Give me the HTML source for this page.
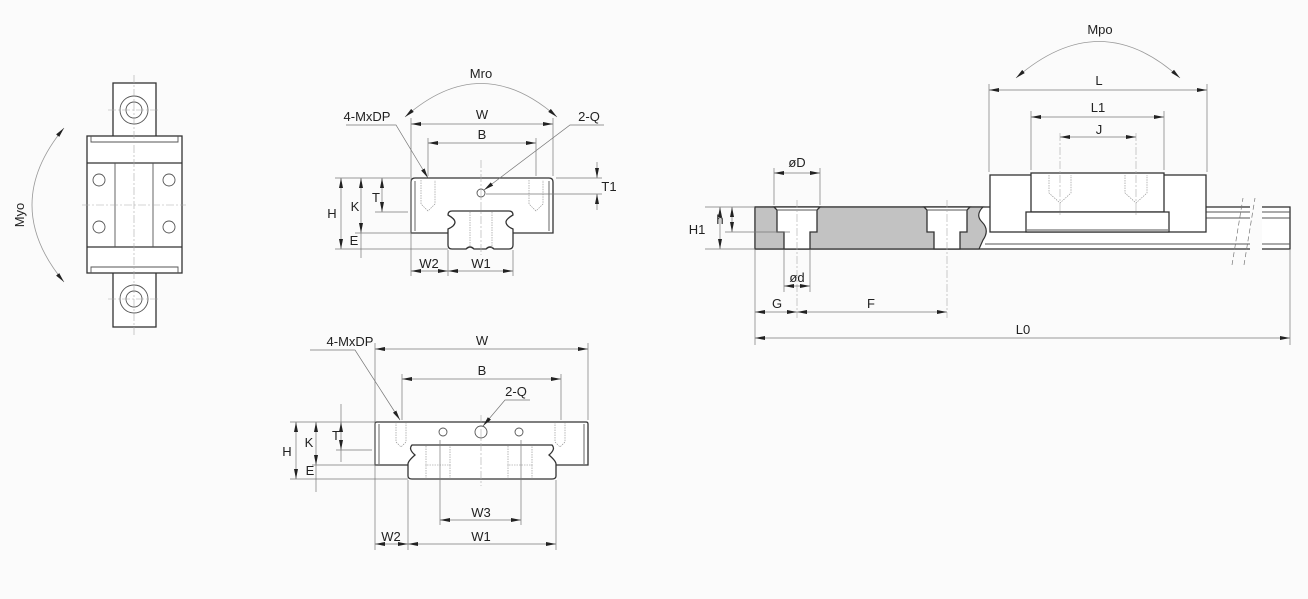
<!DOCTYPE html>
<html><head><meta charset="utf-8"><style>
html,body{margin:0;padding:0;background:#fbfbfb}
svg{display:block}
text{font-family:"Liberation Sans",sans-serif;font-size:13px;fill:#222}
.o{stroke:#333;stroke-width:1.3;fill:none}
.w{stroke:#333;stroke-width:1.3;fill:#fff}
.t{stroke:#555;stroke-width:0.9;fill:none}
.d{stroke:#777;stroke-width:0.7;fill:none}
.c{stroke:#aaa;stroke-width:0.6;fill:none;stroke-dasharray:8 2 2 2}
.h{stroke:#888;stroke-width:0.6;fill:none;stroke-dasharray:1.5 1}
.a{stroke:#999;stroke-width:0.8;fill:none}
</style></head><body>
<svg width="1308" height="599" viewBox="0 0 1308 599" xmlns="http://www.w3.org/2000/svg">
<defs>
<marker id="ar" viewBox="0 0 10 6" refX="10" refY="3" markerWidth="10" markerHeight="6" orient="auto-start-reverse" markerUnits="userSpaceOnUse"><path d="M0,1 L10,3 L0,5 z" fill="#222"/></marker>
</defs>
<rect width="1308" height="599" fill="#fbfbfb"/>

<!-- ===== LEFT VIEW ===== -->
<rect x="113" y="83" width="43" height="244" class="w"/>
<circle cx="134" cy="110" r="14" class="t"/><circle cx="134" cy="110" r="8" class="t"/>
<circle cx="134" cy="299" r="14" class="t"/><circle cx="134" cy="299" r="8" class="t"/>
<rect x="87" y="136" width="95" height="137" class="w"/>
<line x1="87" y1="163" x2="182" y2="163" class="o"/>
<line x1="87" y1="247" x2="182" y2="247" class="o"/>
<path d="M91,136 v6 h87 v-6 M91,273 v-6 h87 v6" class="t"/>
<line x1="115" y1="163" x2="115" y2="247" class="t"/>
<line x1="153" y1="163" x2="153" y2="247" class="t"/>
<circle cx="99" cy="180" r="6" class="t"/><circle cx="169" cy="180" r="6" class="t"/>
<circle cx="99" cy="227" r="6" class="t"/><circle cx="169" cy="227" r="6" class="t"/>
<line x1="134" y1="75" x2="134" y2="335" class="c"/>
<line x1="82" y1="205" x2="186" y2="205" class="c"/>
<line x1="108" y1="110" x2="160" y2="110" class="c"/>
<line x1="108" y1="299" x2="160" y2="299" class="c"/>
<path d="M64,128 Q0,205 64,282" class="a" marker-start="url(#ar)" marker-end="url(#ar)"/>
<text x="24" y="215" transform="rotate(-90 24 215)" text-anchor="middle">Myo</text>

<!-- ===== TOP CENTER VIEW ===== -->
<path d="M411,233 V182 Q411,178 415,178 H549 Q553,178 553,182 V233 Z" class="w"/>
<path d="M452,211 H509 Q513,211 513,215 Q506,219 506,222 Q506,226 513,229 V245 Q513,249 509,249 H494 Q490,245 486,249 H474 Q470,245 466,249 H452 Q448,249 448,245 V229 Q455,226 455,222 Q455,219 448,215 Q448,211 452,211 Z" class="w"/>
<line x1="415" y1="181" x2="415" y2="231" class="t"/>
<line x1="549" y1="181" x2="549" y2="231" class="t"/>
<path d="M421,180 v24 l7,7 l7,-7 v-24 M529,180 v24 l7,7 l7,-7 v-24" class="h"/>
<path d="M470,212 v36 M492,212 v36" class="h"/>
<circle cx="481" cy="193" r="4" class="t"/>
<line x1="481" y1="160" x2="481" y2="255" class="c"/>
<path d="M405,117 Q481,50 557,117" class="a" marker-start="url(#ar)" marker-end="url(#ar)"/>
<text x="481" y="78" text-anchor="middle">Mro</text>
<line x1="411" y1="118" x2="411" y2="276" class="d"/>
<line x1="553" y1="118" x2="553" y2="176" class="d"/>
<line x1="411" y1="124" x2="553" y2="124" class="d" marker-start="url(#ar)" marker-end="url(#ar)"/>
<text x="482" y="119" text-anchor="middle">W</text>
<line x1="428" y1="138" x2="428" y2="176" class="d"/>
<line x1="536" y1="138" x2="536" y2="176" class="d"/>
<line x1="428" y1="143" x2="536" y2="143" class="d" marker-start="url(#ar)" marker-end="url(#ar)"/>
<text x="482" y="139" text-anchor="middle">B</text>
<text x="367" y="121" text-anchor="middle">4-MxDP</text>
<path d="M346,125 H396 L428,178" class="d" marker-end="url(#ar)"/>
<text x="589" y="121" text-anchor="middle">2-Q</text>
<path d="M604,125 H570 L484,190" class="d" marker-end="url(#ar)"/>
<line x1="556" y1="178" x2="602" y2="178" class="d"/>
<line x1="486" y1="194" x2="602" y2="194" class="d"/>
<line x1="597" y1="162" x2="597" y2="178" class="d" marker-end="url(#ar)"/>
<line x1="597" y1="210" x2="597" y2="194" class="d" marker-end="url(#ar)"/>
<text x="609" y="191" text-anchor="middle">T1</text>
<line x1="335" y1="178" x2="410" y2="178" class="d"/>
<line x1="335" y1="249" x2="448" y2="249" class="d"/>
<line x1="355" y1="233" x2="410" y2="233" class="d"/>
<line x1="375" y1="212" x2="408" y2="212" class="d"/>
<line x1="341" y1="178" x2="341" y2="249" class="d" marker-start="url(#ar)" marker-end="url(#ar)"/>
<text x="332" y="218" text-anchor="middle">H</text>
<line x1="361" y1="178" x2="361" y2="233" class="d" marker-start="url(#ar)" marker-end="url(#ar)"/>
<line x1="361" y1="233" x2="361" y2="258" class="d"/>
<text x="355" y="211" text-anchor="middle">K</text>
<text x="354" y="245" text-anchor="middle">E</text>
<line x1="382" y1="178" x2="382" y2="212" class="d" marker-start="url(#ar)" marker-end="url(#ar)"/>
<text x="376" y="202" text-anchor="middle">T</text>
<line x1="448" y1="250" x2="448" y2="276" class="d"/>
<line x1="513" y1="250" x2="513" y2="276" class="d"/>
<line x1="411" y1="271" x2="448" y2="271" class="d" marker-start="url(#ar)" marker-end="url(#ar)"/>
<line x1="448" y1="271" x2="513" y2="271" class="d" marker-start="url(#ar)" marker-end="url(#ar)"/>
<text x="429" y="268" text-anchor="middle">W2</text>
<text x="481" y="268" text-anchor="middle">W1</text>

<!-- ===== BOTTOM CENTER VIEW ===== -->
<path d="M375,465 V424 Q375,422 377,422 H586 Q588,422 588,424 V465 Z" class="w"/>
<path d="M412,445 H552 Q556,449 549,455 Q556,461 556,464 V476 Q556,479 552,479 H412 Q408,479 408,476 V464 Q408,461 415,455 Q408,449 412,445 Z" class="w"/>
<line x1="379" y1="424" x2="379" y2="464" class="t"/>
<line x1="584" y1="424" x2="584" y2="464" class="t"/>
<path d="M396,422 v20 l5,5 l5,-5 v-20 M555,422 v20 l5,5 l5,-5 v-20" class="h"/>
<path d="M426,446 v19 h24 v-19 M426,465 v14 M450,465 v14 M508,446 v19 h24 v-19 M508,465 v14 M532,465 v14" class="h"/>
<circle cx="443" cy="432" r="4" class="t"/><circle cx="519" cy="432" r="4" class="t"/>
<circle cx="481" cy="432" r="6" class="t"/>
<line x1="481" y1="415" x2="481" y2="486" class="c"/>
<line x1="375" y1="343" x2="375" y2="550" class="d"/>
<line x1="588" y1="343" x2="588" y2="420" class="d"/>
<line x1="375" y1="349" x2="588" y2="349" class="d" marker-start="url(#ar)" marker-end="url(#ar)"/>
<text x="482" y="345" text-anchor="middle">W</text>
<line x1="402" y1="374" x2="402" y2="420" class="d"/>
<line x1="561" y1="374" x2="561" y2="420" class="d"/>
<line x1="402" y1="379" x2="561" y2="379" class="d" marker-start="url(#ar)" marker-end="url(#ar)"/>
<text x="482" y="375" text-anchor="middle">B</text>
<text x="350" y="346" text-anchor="middle">4-MxDP</text>
<path d="M310,350 H355 L400,420" class="d" marker-end="url(#ar)"/>
<text x="516" y="396" text-anchor="middle">2-Q</text>
<path d="M530,400 H505 L483,426" class="d" marker-end="url(#ar)"/>
<line x1="290" y1="422" x2="375" y2="422" class="d"/>
<line x1="290" y1="479" x2="408" y2="479" class="d"/>
<line x1="312" y1="465" x2="375" y2="465" class="d"/>
<line x1="336" y1="450" x2="372" y2="450" class="d"/>
<line x1="296" y1="422" x2="296" y2="479" class="d" marker-start="url(#ar)" marker-end="url(#ar)"/>
<text x="287" y="456" text-anchor="middle">H</text>
<line x1="316" y1="422" x2="316" y2="465" class="d" marker-start="url(#ar)" marker-end="url(#ar)"/>
<line x1="316" y1="465" x2="316" y2="492" class="d"/>
<text x="309" y="447" text-anchor="middle">K</text>
<text x="310" y="475" text-anchor="middle">E</text>
<line x1="341" y1="404" x2="341" y2="422" class="d"/>
<line x1="341" y1="422" x2="341" y2="450" class="d" marker-start="url(#ar)" marker-end="url(#ar)"/>
<line x1="341" y1="450" x2="341" y2="462" class="d"/>
<text x="336" y="440" text-anchor="middle">T</text>
<line x1="440" y1="440" x2="440" y2="525" class="d"/>
<line x1="521" y1="440" x2="521" y2="525" class="d"/>
<line x1="440" y1="520" x2="521" y2="520" class="d" marker-start="url(#ar)" marker-end="url(#ar)"/>
<text x="481" y="517" text-anchor="middle">W3</text>
<line x1="408" y1="480" x2="408" y2="550" class="d"/>
<line x1="556" y1="480" x2="556" y2="550" class="d"/>
<line x1="375" y1="544" x2="408" y2="544" class="d" marker-start="url(#ar)" marker-end="url(#ar)"/>
<line x1="408" y1="544" x2="556" y2="544" class="d" marker-start="url(#ar)" marker-end="url(#ar)"/>
<text x="391" y="541" text-anchor="middle">W2</text>
<text x="481" y="541" text-anchor="middle">W1</text>

<!-- ===== RIGHT VIEW ===== -->
<rect x="755" y="207" width="535" height="42" class="w"/>
<line x1="985" y1="244" x2="1290" y2="244" class="t"/>
<line x1="1206" y1="212" x2="1290" y2="212" class="t"/>
<line x1="1206" y1="218" x2="1290" y2="218" class="t"/>
<path d="M755,207 H983 Q975,215 982,222 Q990,230 983,240 L979,249 H755 Z" fill="#c2c2c2" stroke="#333" stroke-width="1.2"/>
<path d="M774,207 L777,210 V232 H784 V249 H810 V232 H817 V210 L820,207 Z" class="w"/>
<path d="M924,207 L927,210 V232 H934 V249 H960 V232 H967 V210 L970,207 Z" class="w"/>
<line x1="777" y1="210" x2="817" y2="210" class="t"/>
<line x1="927" y1="210" x2="967" y2="210" class="t"/>
<rect x="990" y="175" width="216" height="57" class="w"/>
<rect x="1031" y="173" width="133" height="39" class="w"/>
<rect x="1026" y="212" width="143" height="20" class="w"/>
<line x1="1027" y1="230" x2="1168" y2="230" class="t"/>
<path d="M1049,175 v18 l11,10 l11,-10 v-18 M1125,175 v18 l11,10 l11,-10 v-18" class="h"/>
<rect x="1250" y="200" width="12" height="58" fill="#fbfbfb"/>
<line x1="1244" y1="265" x2="1255" y2="198" class="d" stroke-dasharray="5 3"/>
<line x1="1232" y1="265" x2="1243" y2="198" class="d" stroke-dasharray="5 3"/>
<line x1="797" y1="200" x2="797" y2="318" class="c"/>
<line x1="947" y1="200" x2="947" y2="318" class="c"/>
<line x1="1060" y1="133" x2="1060" y2="215" class="c"/>
<line x1="1136" y1="133" x2="1136" y2="215" class="c"/>
<path d="M1016,78 Q1100,5 1180,78" class="a" marker-start="url(#ar)" marker-end="url(#ar)"/>
<text x="1100" y="34" text-anchor="middle">Mpo</text>
<line x1="989" y1="84" x2="989" y2="172" class="d"/>
<line x1="1207" y1="84" x2="1207" y2="172" class="d"/>
<line x1="989" y1="90" x2="1207" y2="90" class="d" marker-start="url(#ar)" marker-end="url(#ar)"/>
<text x="1099" y="85" text-anchor="middle">L</text>
<line x1="1031" y1="111" x2="1031" y2="170" class="d"/>
<line x1="1164" y1="111" x2="1164" y2="170" class="d"/>
<line x1="1031" y1="117" x2="1164" y2="117" class="d" marker-start="url(#ar)" marker-end="url(#ar)"/>
<text x="1098" y="112" text-anchor="middle">L1</text>
<line x1="1060" y1="137" x2="1136" y2="137" class="d" marker-start="url(#ar)" marker-end="url(#ar)"/>
<text x="1099" y="134" text-anchor="middle">J</text>
<line x1="774" y1="168" x2="774" y2="205" class="d"/>
<line x1="820" y1="168" x2="820" y2="205" class="d"/>
<line x1="774" y1="173" x2="820" y2="173" class="d" marker-start="url(#ar)" marker-end="url(#ar)"/>
<text x="797" y="167" text-anchor="middle">øD</text>
<line x1="784" y1="250" x2="784" y2="292" class="d"/>
<line x1="810" y1="250" x2="810" y2="292" class="d"/>
<line x1="784" y1="286" x2="810" y2="286" class="d" marker-start="url(#ar)" marker-end="url(#ar)"/>
<text x="797" y="282" text-anchor="middle">ød</text>
<line x1="705" y1="207" x2="755" y2="207" class="d"/>
<line x1="705" y1="249" x2="755" y2="249" class="d"/>
<line x1="725" y1="232" x2="790" y2="232" class="d"/>
<line x1="720" y1="207" x2="720" y2="249" class="d" marker-start="url(#ar)" marker-end="url(#ar)"/>
<text x="697" y="234" text-anchor="middle">H1</text>
<line x1="732" y1="207" x2="732" y2="232" class="d" marker-start="url(#ar)" marker-end="url(#ar)"/>
<text x="720" y="224" text-anchor="middle">h</text>
<line x1="755" y1="250" x2="755" y2="345" class="d"/>
<line x1="1290" y1="250" x2="1290" y2="345" class="d"/>
<line x1="755" y1="312" x2="797" y2="312" class="d" marker-start="url(#ar)" marker-end="url(#ar)"/>
<line x1="797" y1="312" x2="947" y2="312" class="d" marker-start="url(#ar)" marker-end="url(#ar)"/>
<text x="777" y="308" text-anchor="middle">G</text>
<text x="871" y="308" text-anchor="middle">F</text>
<line x1="755" y1="338" x2="1290" y2="338" class="d" marker-start="url(#ar)" marker-end="url(#ar)"/>
<text x="1023" y="334" text-anchor="middle">L0</text>
</svg>
</body></html>
